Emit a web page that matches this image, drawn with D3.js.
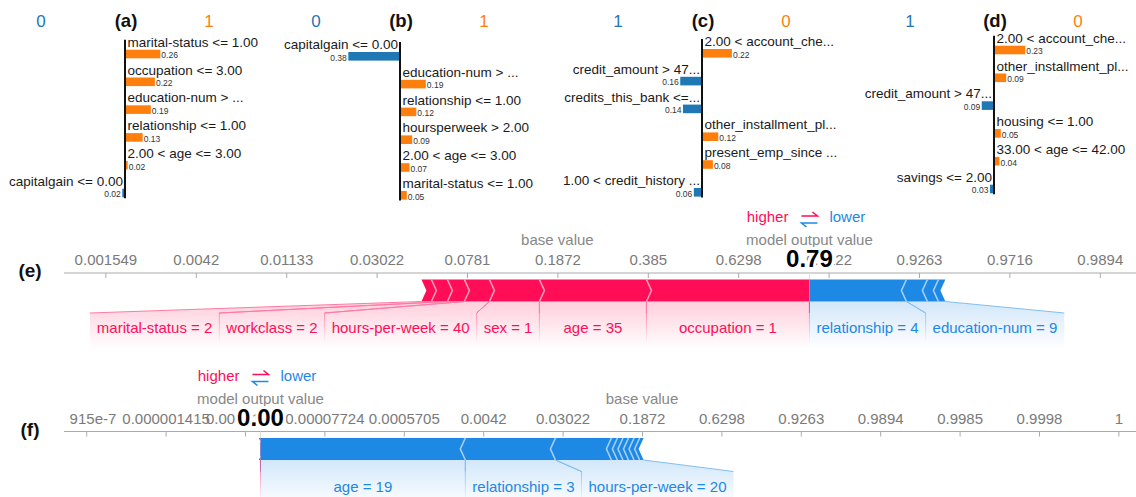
<!DOCTYPE html>
<html>
<head>
<meta charset="utf-8">
<script src="https://cdn.jsdelivr.net/npm/d3@7.9.0/dist/d3.min.js"></script>
<style>
  body { margin: 0; background: #fff; }
  svg { display: block; font-family: "Liberation Sans", Arial, sans-serif; }
</style>
</head>
<body>
<svg id="chart" width="1136" height="497"></svg>
<script>
// LIME panels (a)-(d)
const aFeatures = ['marital-status <= 1.00', 'occupation <= 3.00', 'education-num > ...', 'relationship <= 1.00', '2.00 < age <= 3.00', 'capitalgain <= 0.00'];
const aWeights = [0.26, 0.22, 0.19, 0.13, 0.02, -0.02];
const aClasses = ['0', '1'];

const bFeatures = ['capitalgain <= 0.00', 'education-num > ...', 'relationship <= 1.00', 'hoursperweek > 2.00', '2.00 < age <= 3.00', 'marital-status <= 1.00'];
const bWeights = [-0.38, 0.19, 0.12, 0.09, 0.07, 0.05];
const bClasses = ['0', '1'];

const cFeatures = ['2.00 < account_che...', 'credit_amount > 47...', 'credits_this_bank <=...', 'other_installment_pl...', 'present_emp_since ...', '1.00 < credit_history ...'];
const cWeights = [0.22, -0.16, -0.14, 0.12, 0.08, -0.06];
const cClasses = ['1', '0'];

const dFeatures = ['2.00 < account_che...', 'other_installment_pl...', 'credit_amount > 47...', 'housing <= 1.00', '33.00 < age <= 42.00', 'savings <= 2.00'];
const dWeights = [0.23, 0.09, -0.09, 0.05, 0.04, -0.03];
const dClasses = ['1', '0'];

// force plots (e), (f) - effects in log-odds
const eBaseValue = 0.1872;
const ePosNames = ['', 'marital-status = 2', 'workclass = 2', 'hours-per-week = 40', 'sex = 1', 'age = 35', 'occupation = 1'];
const ePosEffects = [0.11, 0.177, 0.188, 0.277, 0.553, 1.184, 1.803];
const eNegNames = ['relationship = 4', 'education-num = 9', '', ''];
const eNegEffects = [1.073, 0.232, 0.122, 0.077];
const eTickOffsets = [-5, -4, -3, -2, -1, 0, 1, 2, 3, 4, 5, 6];
const eTickLabels = ['0.001549', '0.0042', '0.01133', '0.03022', '0.0781', '0.1872', '0.385', '0.6298', '0.8222', '0.9263', '0.9716', '0.9894'];

const fBaseValue = 0.1872;
const fPosNames = [''];
const fPosEffects = [0.04];
const fNegNames = ['age = 19', 'relationship = 3', 'hours-per-week = 20', '', '', '', '', '', ''];
const fNegEffects = [5.16, 2.27, 1.41, 0.15, 0.14, 0.14, 0.14, 0.14, 0.10];
const fTickOffsets = [-14, -12, -10, -8, -6, -4, -2, 0, 2, 4, 6, 8, 10, 12];
const fTickLabels = ['1.915e-7', '0.000001415', '0.00001046', '0.00007724', '0.0005705', '0.0042', '0.03022', '0.1872', '0.6298', '0.9263', '0.9894', '0.9985', '0.9998', '1'];

const orange = '#ff7f0e', limeBlue = '#1f77b4';
const red = '#ff0d57', blue = '#1e88e5';

const svg = d3.select('#chart');
const defs = svg.append('defs');
defs.append('clipPath').attr('id', 'forceClip')
  .append('rect').attr('x', 64).attr('y', 0).attr('width', 1072).attr('height', 497);
defs.append('clipPath').attr('id', 'tickClip')
  .append('rect').attr('x', 69.5).attr('y', 0).attr('width', 1066).attr('height', 497);

function drawLime(tag, features, weights, classes, axisX, y0) {
  const g = svg.append('g');
  const x = d3.scaleLinear().domain([-0.5, 0.5]).range([axisX - 68, axisX + 68]);
  const step = 27.8;
  const y = i => y0 + i * step;

  g.append('text').attr('x', axisX - 84).attr('y', 26.5).attr('text-anchor', 'middle')
    .attr('font-size', 17).attr('fill', limeBlue).text(classes[0]);
  g.append('text').attr('x', axisX + 84).attr('y', 26.5).attr('text-anchor', 'middle')
    .attr('font-size', 17).attr('fill', orange).text(classes[1]);
  g.append('text').attr('x', axisX + 1).attr('y', 27).attr('text-anchor', 'middle')
    .attr('font-size', 18.5).attr('font-weight', 'bold').attr('fill', '#111').text(tag);

  features.forEach((f, i) => {
    const v = weights[i];
    const pos = v > 0;
    const x0 = x(0), x1 = x(v);
    g.append('rect')
      .attr('x', Math.min(x0, x1)).attr('y', y(i) + 3)
      .attr('width', Math.abs(x1 - x0)).attr('height', 8.6)
      .attr('fill', pos ? orange : limeBlue);
    g.append('text')
      .attr('x', pos ? x0 + 2.5 : x0 - 2).attr('y', y(i))
      .attr('text-anchor', pos ? 'start' : 'end')
      .attr('font-size', 13.5).attr('fill', '#1a1a1a').text(f);
    g.append('text')
      .attr('x', pos ? x1 + 1 : x1 - 1.5).attr('y', y(i) + 11.6)
      .attr('text-anchor', pos ? 'start' : 'end')
      .attr('font-size', 8.5).attr('fill', '#333').text(d3.format('.2f')(Math.abs(v)));
  });

  g.append('line')
    .attr('x1', x(0)).attr('x2', x(0))
    .attr('y1', y0 - 7).attr('y2', y(features.length - 1) + 12.5)
    .attr('stroke', '#111').attr('stroke-width', 2);
}

drawLime('(a)', aFeatures, aWeights, aClasses, 125, 46.7);
drawLime('(b)', bFeatures, bWeights, bClasses, 400, 49);
drawLime('(c)', cFeatures, cWeights, cClasses, 702, 46);
drawLime('(d)', dFeatures, dWeights, dClasses, 994, 42.7);

const logit = p => Math.log(p / (1 - p));
const sigmoid = z => 1 / (1 + Math.exp(-z));
const light = (c, t) => d3.interpolateRgb(c, '#fff')(t);

function drawForce(id, tag, base, posNames, posEffects, negNames, negEffects, tickOffsets, tickLabels, baseX, unit, axisY) {
  const baseL = logit(base);
  const x = d3.scaleLinear().domain([baseL, baseL + 1]).range([baseX, baseX + unit]);
  const outL = baseL + d3.sum(posEffects) - d3.sum(negEffects);
  const outX = x(outL);

  const barTop = axisY + 6.5, barH = 22, barBot = barTop + barH, mid = barTop + barH / 2;
  const linkY = axisY + 40, backBot = axisY + 76, divBot = axisY + 70;
  const tip = 5;

  svg.append('text').attr('x', 30).attr('y', axisY + 4).attr('text-anchor', 'middle')
    .attr('font-size', 19).attr('font-weight', 'bold').attr('fill', '#111').text(tag);

  // gradients
  [['pos', red], ['neg', blue]].forEach(([k, c]) => {
    const gb = defs.append('linearGradient').attr('id', `${id}-back-${k}`)
      .attr('gradientUnits', 'userSpaceOnUse').attr('x1', 0).attr('x2', 0).attr('y1', barBot).attr('y2', backBot);
    gb.append('stop').attr('offset', 0).attr('stop-color', c).attr('stop-opacity', 0.2);
    gb.append('stop').attr('offset', 1).attr('stop-color', c).attr('stop-opacity', 0);
    const gd = defs.append('linearGradient').attr('id', `${id}-div-${k}`)
      .attr('gradientUnits', 'userSpaceOnUse').attr('x1', 0).attr('x2', 0).attr('y1', barBot).attr('y2', divBot);
    gd.append('stop').attr('offset', 0).attr('stop-color', c).attr('stop-opacity', 0.55);
    gd.append('stop').attr('offset', 1).attr('stop-color', c).attr('stop-opacity', 0);
  });

  const g = svg.append('g').attr('clip-path', 'url(#forceClip)');

  // axis
  g.append('line').attr('x1', 64).attr('x2', 1136).attr('y1', axisY).attr('y2', axisY)
    .attr('stroke', '#aaa').attr('stroke-width', 1);
  const axis = d3.axisBottom(x)
    .tickValues(tickOffsets.map(k => baseL + k))
    .tickSize(5)
    .tickFormat((d, i) => tickLabels[i]);
  const ag = g.append('g').attr('clip-path', 'url(#tickClip)')
    .append('g').attr('transform', `translate(0,${axisY})`).call(axis)
    .attr('font-family', null).attr('font-size', 15);
  ag.select('.domain').remove();
  ag.selectAll('.tick line').attr('stroke', '#aaa');
  ag.selectAll('.tick text').attr('y', -8).attr('dy', 0).attr('fill', '#7a7a7a');

  g.append('text').attr('x', x(baseL)).attr('y', axisY - 28).attr('text-anchor', 'middle')
    .attr('font-size', 15).attr('fill', '#888').text('base value');
  g.append('text').attr('x', outX).attr('y', axisY - 28).attr('text-anchor', 'middle')
    .attr('font-size', 15).attr('fill', '#888').text('model output value');

  // higher / lower
  const hy = axisY - 51;
  g.append('text').attr('x', outX - 21).attr('y', hy).attr('text-anchor', 'end')
    .attr('font-size', 15).attr('fill', red).text('higher');
  g.append('text').attr('x', outX + 20).attr('y', hy).attr('text-anchor', 'start')
    .attr('font-size', 15).attr('fill', blue).text('lower');
  g.append('path').attr('d', `M${outX - 8},${hy - 6}L${outX + 8},${hy - 6}L${outX + 3},${hy - 10}`)
    .attr('fill', 'none').attr('stroke', red).attr('stroke-width', 1.5);
  g.append('path').attr('d', `M${outX + 8},${hy + 1}L${outX - 8},${hy + 1}L${outX - 3},${hy + 5}`)
    .attr('fill', 'none').attr('stroke', blue).attr('stroke-width', 1.5);

  // join line
  g.append('line').attr('x1', outX).attr('x2', outX).attr('y1', axisY).attr('y2', barTop)
    .attr('stroke', '#ddd').attr('stroke-width', 1);

  const lineFn = d3.line();

  // positive blocks, left to right ending at output
  const posBlocks = [];
  let cur = outL - d3.sum(posEffects);
  posEffects.forEach((e, i) => {
    posBlocks.push({ name: posNames[i], s: x(cur), e: x(cur + e), last: i === posEffects.length - 1 });
    cur += e;
  });
  const negBlocks = [];
  cur = outL;
  negEffects.forEach((e, i) => {
    negBlocks.push({ name: negNames[i], s: x(cur), e: x(cur + e), first: i === 0 });
    cur += e;
  });

  const blockG = g.append('g');
  posBlocks.forEach(b => {
    const tr = b.last ? 0 : tip;
    blockG.append('path').attr('d', lineFn([
      [b.s, barTop], [b.e, barTop], [b.e + tr, mid], [b.e, barBot], [b.s, barBot], [b.s + tip, mid]
    ]) + 'Z').attr('fill', red);
  });
  negBlocks.forEach(b => {
    const tl = b.first ? 0 : tip;
    blockG.append('path').attr('d', lineFn([
      [b.s, barTop], [b.e, barTop], [b.e - tip, mid], [b.e, barBot], [b.s, barBot], [b.s - tl, mid]
    ]) + 'Z').attr('fill', blue);
  });
  // block dividers
  posBlocks.slice(0, -1).forEach(b => {
    blockG.append('path').attr('d', lineFn([[b.e, barTop], [b.e + tip, mid], [b.e, barBot]]))
      .attr('fill', 'none').attr('stroke', light(red, 0.6)).attr('stroke-width', 1.6);
  });
  negBlocks.slice(1).forEach(b => {
    blockG.append('path').attr('d', lineFn([[b.s, barTop], [b.s - tip, mid], [b.s, barBot]]))
      .attr('fill', 'none').attr('stroke', light(blue, 0.6)).attr('stroke-width', 1.6);
  });

  // labels
  const labelG = g.append('g');
  const backG = g.insert('g', ':first-child');
  function layout(blocks, dir, color, key) {
    // dir -1: positive side, stacking leftwards from output; +1: negative side
    const ordered = dir < 0 ? blocks.slice().reverse() : blocks.slice();
    let edge = outX;
    const boxes = [];
    ordered.forEach(b => {
      const w = Math.abs(b.e - b.s);
      if (!b.name || w < 13) return;
      const t = labelG.append('text').attr('y', axisY + 60).attr('text-anchor', 'middle')
        .attr('font-size', 15).attr('fill', color).text(b.name);
      const tw = t.node().getComputedTextLength();
      const bw = Math.max(w, tw + 14);
      const c = (b.s + b.e) / 2;
      let l, r;
      if (dir < 0) { r = Math.min(c + bw / 2, edge); l = r - bw; edge = l; }
      else { l = Math.max(c - bw / 2, edge); r = l + bw; edge = r; }
      if ((dir < 0 && l < 64) || (dir > 0 && r > 1136)) { t.remove(); return; }
      t.attr('x', (l + r) / 2);
      const near = dir < 0 ? b.e : b.s, far = dir < 0 ? b.s : b.e;
      const boxNear = dir < 0 ? r : l, boxFar = dir < 0 ? l : r;
      boxes.push({ near, far, boxNear, boxFar });
    });
    if (!boxes.length) return;
    const outerBar = dir < 0 ? blocks[0].s : blocks[blocks.length - 1].e;
    const lastBox = boxes[boxes.length - 1];
    const fill = `url(#${id}-back-${key})`;
    boxes.forEach(bx => {
      backG.append('path').attr('d', lineFn([
        [bx.near, barBot], [bx.far, barBot], [bx.boxFar, linkY], [bx.boxFar, backBot],
        [bx.boxNear, backBot], [bx.boxNear, linkY]
      ]) + 'Z').attr('fill', fill);
    });
    if (Math.abs(outerBar - lastBox.far) > 0.5) {
      backG.append('path').attr('d', lineFn([
        [lastBox.far, barBot], [outerBar, barBot], [lastBox.boxFar, linkY]
      ]) + 'Z').attr('fill', fill);
    }
    // links and dividers
    const linkColor = light(color, 0.45);
    boxes.forEach((bx, i) => {
      labelG.append('line').attr('x1', bx.near).attr('y1', barBot).attr('x2', bx.boxNear).attr('y2', linkY)
        .attr('stroke', linkColor).attr('stroke-width', 1);
      const isLast = i === boxes.length - 1;
      const farBar = isLast ? outerBar : bx.far;
      labelG.append('line').attr('x1', farBar).attr('y1', barBot).attr('x2', bx.boxFar).attr('y2', linkY)
        .attr('stroke', linkColor).attr('stroke-width', 1);
      if (!isLast) {
        labelG.append('rect').attr('x', bx.boxFar - 0.5).attr('y', linkY).attr('width', 1)
          .attr('height', divBot - linkY).attr('fill', `url(#${id}-div-${key})`);
      }
    });
  }
  layout(posBlocks, -1, red, 'pos');
  layout(negBlocks, 1, blue, 'neg');
  labelG.append('rect').attr('x', outX - 0.5).attr('y', barBot).attr('width', 1)
    .attr('height', divBot - barBot).attr('fill', `url(#${id}-div-pos)`);

  // output value
  g.append('text').attr('x', outX).attr('y', axisY - 6).attr('text-anchor', 'middle')
    .attr('font-size', 24).attr('font-weight', 'bold').attr('fill', '#000')
    .attr('stroke', '#fff').attr('stroke-width', 6).attr('paint-order', 'stroke')
    .text(d3.format('.2f')(sigmoid(outL)));
}

drawForce('e', '(e)', eBaseValue, ePosNames, ePosEffects, eNegNames, eNegEffects, eTickOffsets, eTickLabels, 557.4, 90.4, 273);
drawForce('f', '(f)', fBaseValue, fPosNames, fPosEffects, fNegNames, fNegEffects, fTickOffsets, fTickLabels, 642, 39.7, 431.5);
</script>
</body>
</html>
